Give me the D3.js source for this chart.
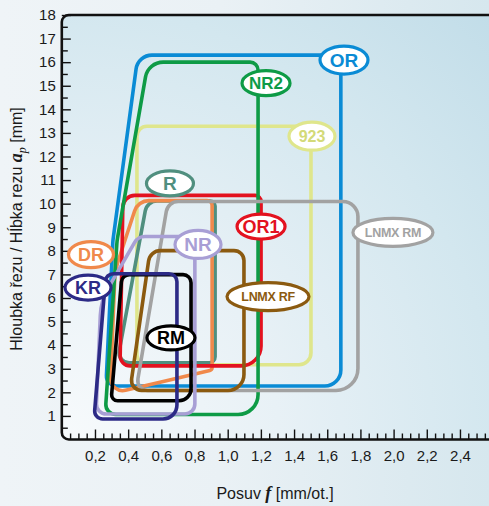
<!DOCTYPE html>
<html>
<head>
<meta charset="utf-8">
<script src="https://cdn.jsdelivr.net/npm/d3@7/dist/d3.min.js"></script>
<style>
  html, body { margin: 0; padding: 0; background: #eef3f6; }
  svg { display: block; }
  text { font-family: "Liberation Sans", Arial, sans-serif; }
</style>
</head>
<body>
<svg id="chart" width="489" height="506"></svg>
<script>
// Application ranges: feed f [mm/ot.] vs. depth of cut ap [mm]
// Each region is a list of corner points [f, ap]; corners are rounded when drawn.
const regionOR     = [[0.266, 2.27], [0.308, 8.44], [0.459, 16.30], [1.682, 16.30], [1.682, 2.27]];
const regionNR2    = [[0.261, 1.06], [0.333, 8.43], [0.520, 16.00], [1.183, 16.00], [1.183, 1.06]];
const region923    = [[0.453, 3.17], [0.453, 13.28], [1.502, 13.28], [1.502, 3.17]];
const regionR      = [[0.333, 3.25], [0.514, 10.11], [0.924, 10.11], [0.924, 3.25]];
const regionDR     = [[0.291, 1.93], [0.321, 7.16], [0.459, 10.13], [0.906, 10.13], [0.906, 2.95]];
const regionOR1    = [[0.351, 3.12], [0.369, 10.35], [1.201, 10.35], [1.201, 3.12]];
const regionNR     = [[0.206, 1.08], [0.236, 5.89], [0.460, 8.61], [0.802, 8.61], [0.802, 1.08]];
const regionKR     = [[0.194, 0.87], [0.266, 7.03], [0.694, 7.03], [0.694, 0.87]];
const regionRM     = [[0.297, 1.64], [0.363, 6.99], [0.779, 6.99], [0.779, 1.64]];
const regionLNMXRF = [[0.411, 2.08], [0.532, 8.01], [1.098, 8.01], [1.098, 2.08]];
const regionLNMXRM = [[0.447, 2.08], [0.640, 10.09], [1.785, 10.09], [1.785, 2.08]];

// Insert names and where their tags sit [f, ap]
const gradeNames  = ["OR", "NR2", "923", "R", "DR", "OR1", "NR", "KR", "RM", "LNMX RF", "LNMX RM"];
const tagPositions = [[1.701, 16.09], [1.231, 15.11], [1.508, 12.86], [0.652, 10.86], [0.176, 7.84],
                      [1.201, 9.03], [0.821, 8.27], [0.158, 6.44], [0.658, 4.31], [1.243, 6.06], [1.996, 8.78]];

// Axis ticks
const xTickValues = [0.2, 0.4, 0.6, 0.8, 1.0, 1.2, 1.4, 1.6, 1.8, 2.0, 2.2, 2.4];
const yTickValues = [1, 2, 3, 4, 5, 6, 7, 8, 9, 10, 11, 12, 13, 14, 15, 16, 17, 18];

// Styling per grade
const style = {
  "OR":      { color: "#0a8bd5", text: "#0a8bd5", radii: [10, 60, 16, 8, 16], rx: 24, ry: 14, fs: 19 },
  "NR2":     { color: "#0e9b46", text: "#0e9b46", radii: [10, 60, 18, 8, 20], rx: 24, ry: 12.5, fs: 17 },
  "923":     { color: "#dfe68c", text: "#d3da78", radii: [10, 10, 10, 12], rx: 23, ry: 14, fs: 16 },
  "R":       { color: "#508f7f", text: "#508f7f", radii: [10, 12, 5, 6], rx: 23.5, ry: 12.5, fs: 19 },
  "DR":      { color: "#f0894b", text: "#f0894b", radii: [12, 60, 15, 5, 3], rx: 22.5, ry: 13, fs: 18 },
  "OR1":     { color: "#e3121f", text: "#e3121f", radii: [10, 12, 6, 20], rx: 24, ry: 12.5, fs: 18 },
  "NR":      { color: "#a89fd5", text: "#a89fd5", radii: [10, 60, 12, 8, 10], rx: 23, ry: 14, fs: 19 },
  "KR":      { color: "#2c2a86", text: "#2c2a86", radii: [8, 8, 8, 14], rx: 23, ry: 12.5, fs: 18 },
  "RM":      { color: "#000000", text: "#000000", radii: [6, 8, 8, 12], rx: 24, ry: 12, fs: 18 },
  "LNMX RF": { color: "#8b5a10", text: "#8b5a10", radii: [10, 12, 10, 16], rx: 41, ry: 14, fs: 12.5 },
  "LNMX RM": { color: "#a2a2a2", text: "#a2a2a2", radii: [10, 12, 15, 22], rx: 40, ry: 14, fs: 12.5 }
};

const regions = {
  "OR": regionOR, "NR2": regionNR2, "923": region923, "R": regionR, "DR": regionDR, "OR1": regionOR1,
  "NR": regionNR, "KR": regionKR, "RM": regionRM, "LNMX RF": regionLNMXRF, "LNMX RM": regionLNMXRM
};
// back-to-front stacking of the outlines
const drawOrder = ["OR", "923", "R", "DR", "OR1", "NR2", "LNMX RM", "LNMX RF", "NR", "RM", "KR"];

const W = 489, H = 506;
const svg = d3.select("#chart");
const x = d3.scaleLinear().domain([0, 2.6]).range([61.8, 61.8 + 2.6 * 165.9]);
const y = d3.scaleLinear().domain([0, 18]).range([439.5, 15]);

const defs = svg.append("defs");
const bg = defs.append("linearGradient").attr("id", "pageBg").attr("x1", 0).attr("x2", 1).attr("y1", 0).attr("y2", 0);
bg.append("stop").attr("offset", 0).attr("stop-color", "#eff4f7");
bg.append("stop").attr("offset", 0.45).attr("stop-color", "#eaf1f5");
bg.append("stop").attr("offset", 1).attr("stop-color", "#d6e7ee");

const plotBg = defs.append("radialGradient").attr("id", "plotBg")
  .attr("gradientUnits", "userSpaceOnUse")
  .attr("cx", x(0)).attr("cy", y(0)).attr("r", 620);
plotBg.append("stop").attr("offset", 0).attr("stop-color", "#f7fafc");
plotBg.append("stop").attr("offset", 0.35).attr("stop-color", "#e8f1f6");
plotBg.append("stop").attr("offset", 0.7).attr("stop-color", "#d3e7ef");
plotBg.append("stop").attr("offset", 1).attr("stop-color", "#c0dce8");

svg.append("rect").attr("width", W).attr("height", H).attr("fill", "url(#pageBg)");

// plot frame with rounded left corners, open to the right
const fr = 7;
const framePath = d3.path();
framePath.moveTo(W + 10, y(18));
framePath.lineTo(x(0) + fr, y(18));
framePath.arcTo(x(0), y(18), x(0), y(18) + fr, fr);
framePath.lineTo(x(0), y(0) - fr);
framePath.arcTo(x(0), y(0), x(0) + fr, y(0), fr);
framePath.lineTo(W + 10, y(0));

svg.append("path").attr("d", framePath.toString() + "Z").attr("fill", "url(#plotBg)").attr("stroke", "none");

// rounded polygon through the scaled corner points
function roundedOutline(points, radii) {
  const pts = points.map(d => [x(d[0]), y(d[1])]);
  const n = pts.length;
  const p = d3.path();
  const a = pts[n - 1], b = pts[0];
  p.moveTo((a[0] + b[0]) / 2, (a[1] + b[1]) / 2);
  for (let i = 0; i < n; i++) {
    const cur = pts[i], nxt = pts[(i + 1) % n];
    p.arcTo(cur[0], cur[1], nxt[0], nxt[1], radii[i]);
  }
  p.closePath();
  return p.toString();
}

const outlines = svg.append("g").attr("fill", "none").attr("stroke-width", 3.6).attr("stroke-linejoin", "round");
drawOrder.forEach(name => {
  outlines.append("path")
    .attr("d", roundedOutline(regions[name], style[name].radii))
    .attr("stroke", style[name].color);
});

// axes
const comma = d3.formatLocale({ decimal: ",", thousands: "\u00a0", grouping: [3], currency: ["", ""] }).format(".1f");

const yAxis = svg.append("g").attr("transform", `translate(${x(0)},0)`)
  .call(d3.axisLeft(y).tickValues(yTickValues).tickSizeInner(-9).tickSizeOuter(0).tickPadding(6).tickFormat(d3.format("d")));
const yMinor = svg.append("g").attr("transform", `translate(${x(0)},0)`)
  .call(d3.axisLeft(y).tickValues(d3.range(0.5, 18, 1)).tickSize(-6).tickFormat(""));
const xAxis = svg.append("g").attr("transform", `translate(0,${y(0)})`)
  .call(d3.axisBottom(x).tickValues(xTickValues).tickSizeInner(-10).tickSizeOuter(0).tickPadding(11).tickFormat(comma));
const xMinor = svg.append("g").attr("transform", `translate(0,${y(0)})`)
  .call(d3.axisBottom(x).tickValues(d3.range(0.05, 2.6, 0.1).concat(d3.range(0.1, 2.6, 0.2))).tickSize(-6).tickFormat(""));

[yAxis, yMinor, xAxis, xMinor].forEach(g => {
  g.select(".domain").remove();
  g.selectAll(".tick line").attr("stroke", "#111").attr("stroke-width", 1.4);
  g.selectAll(".tick text").attr("font-size", 15).attr("fill", "#1a1a1a")
    .attr("font-family", "'Liberation Sans', Arial, sans-serif");
});

svg.append("path").attr("d", framePath.toString()).attr("fill", "none")
  .attr("stroke", "#111").attr("stroke-width", 2.6);

// grade tags
const tags = svg.append("g");
gradeNames.forEach((name, i) => {
  const s = style[name];
  const [f, ap] = tagPositions[i];
  const g = tags.append("g").attr("transform", `translate(${x(f)},${y(ap)})`);
  g.append("ellipse").attr("rx", s.rx).attr("ry", s.ry)
    .attr("fill", "#ffffff").attr("stroke", s.color).attr("stroke-width", 3.2);
  g.append("text").attr("text-anchor", "middle").attr("dy", "0.36em")
    .attr("font-size", s.fs).attr("font-weight", "bold").attr("fill", s.text)
    .attr("font-family", "'Liberation Sans', Arial, sans-serif")
    .attr("letter-spacing", name.startsWith("LNMX") ? -0.3 : 0)
    .text(name);
});

// axis titles
const serif = "'Liberation Serif', 'DejaVu Serif', serif";
const yTitle = svg.append("text")
  .attr("transform", `translate(22,${229}) rotate(-90)`)
  .attr("text-anchor", "middle").attr("font-size", 16).attr("fill", "#1a1a1a");
yTitle.append("tspan").text("Hloubka řezu / Hĺbka rezu ");
yTitle.append("tspan").attr("font-family", serif).attr("font-style", "italic").attr("font-weight", "bold").attr("font-size", 18).text("a");
yTitle.append("tspan").attr("font-family", serif).attr("font-style", "italic").attr("font-size", 12).attr("dy", 4).text("p");
yTitle.append("tspan").attr("dy", -4).text(" [mm]");

const xTitle = svg.append("text")
  .attr("x", 275).attr("y", 499)
  .attr("text-anchor", "middle").attr("font-size", 16).attr("fill", "#1a1a1a");
xTitle.append("tspan").text("Posuv ");
xTitle.append("tspan").attr("font-family", serif).attr("font-style", "italic").attr("font-weight", "bold").attr("font-size", 18).text("f");
xTitle.append("tspan").text(" [mm/ot.]");
</script>
</body>
</html>
